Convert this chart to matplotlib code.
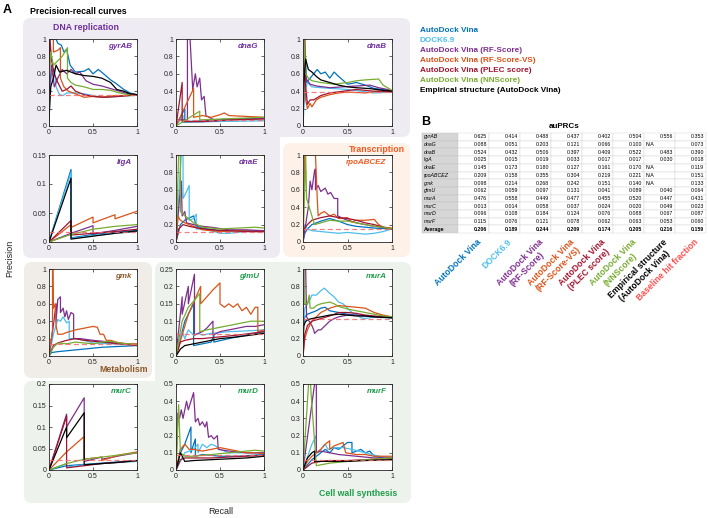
import matplotlib.pyplot as plt
from matplotlib.patches import FancyBboxPatch, Rectangle

plt.rcParams['font.family'] = ['Liberation Sans', 'DejaVu Sans']

# methods, legend names and colours
methods = ['vina', 'dock', 'rf', 'rfvs', 'plec', 'nn', 'emp']
method_names = ['AutoDock Vina', 'DOCK6.9', 'AutoDock Vina (RF-Score)',
                'AutoDock Vina (RF-Score-VS)', 'AutoDock Vina (PLEC score)',
                'AutoDock Vina (NNScore)', 'Empirical structure (AutoDock Vina)']
method_colors = ['#0072BD', '#4DBEEE', '#7E2F8E', '#D95319', '#A2142F', '#77AC30', '#000000']
baseline_color = '#F06A6A'

# ---- precision-recall curves, (recall, precision) points ----
gyrAB_pr = {
    'vina': [(0, 0.0), (0.01, 1.0), (0.08, 1.0), (0.1, 0.95), (0.14, 0.93), (0.17, 0.85), (0.2, 0.88),
             (0.24, 0.7), (0.3, 0.62), (0.4, 0.63), (0.45, 0.66), (0.5, 0.6), (0.56, 0.65), (0.62, 0.6),
             (0.7, 0.53), (0.76, 0.49), (0.85, 0.42), (0.92, 0.38), (1, 0.36)],
    'dock': [(0, 0.35), (0.03, 0.6), (0.06, 0.66), (0.08, 0.45), (0.12, 0.36), (0.16, 0.35), (0.2, 0.38),
             (0.3, 0.38), (0.4, 0.37), (0.5, 0.35), (0.6, 0.33), (0.8, 0.34), (1, 0.353)],
    'rf': [(0, 0.0), (0.0, 0.35), (0.03, 0.7), (0.06, 0.45), (0.1, 0.55), (0.15, 0.65), (0.2, 0.6),
           (0.25, 0.65), (0.3, 0.6), (0.35, 0.62), (0.42, 0.52), (0.5, 0.48), (0.6, 0.46), (0.7, 0.43),
           (0.8, 0.4), (0.9, 0.37), (1, 0.36)],
    'rfvs': [(0, 0.9), (0.01, 1.0), (0.05, 1.0), (0.05, 0.85), (0.1, 0.87), (0.13, 0.9), (0.13, 0.55),
             (0.17, 0.45), (0.22, 0.4), (0.3, 0.37), (0.4, 0.33), (0.5, 0.34), (0.6, 0.33), (0.75, 0.35),
             (0.9, 0.35), (1, 0.36)],
    'plec': [(0, 0.6), (0.01, 1.0), (0.03, 0.75), (0.06, 0.6), (0.1, 0.5), (0.15, 0.4), (0.2, 0.42),
             (0.25, 0.46), (0.3, 0.4), (0.4, 0.36), (0.5, 0.34), (0.65, 0.33), (0.8, 0.34), (1, 0.36)],
    'nn': [(0, 0.5), (0.02, 0.85), (0.05, 0.7), (0.1, 0.75), (0.15, 0.8), (0.21, 0.9), (0.21, 0.55),
           (0.25, 0.5), (0.3, 0.47), (0.4, 0.45), (0.5, 0.42), (0.6, 0.42), (0.7, 0.41), (0.8, 0.38),
           (0.9, 0.36), (1, 0.36)],
    'emp': [(0, 0.07), (0.02, 0.45), (0.05, 0.55), (0.08, 0.7), (0.12, 0.62), (0.2, 0.64), (0.3, 0.6),
            (0.4, 0.58), (0.5, 0.57), (0.6, 0.55), (0.7, 0.5), (0.77, 0.42), (0.85, 0.4), (0.92, 0.37),
            (1, 0.36)],
}
dnaG_pr = {
    'vina': [(0, 0), (0.1, 0.2), (0.1, 0.05), (0.3, 0.06), (0.6, 0.08), (1, 0.09)],
    'dock': [(0, 0), (0.08, 0.12), (0.08, 0.04), (0.4, 0.05), (1, 0.06)],
    'rf': [(0, 0), (0.02, 0.07), (0.13, 0.07), (0.13, 1.0), (0.16, 1.0), (0.19, 0.42), (0.22, 0.6),
           (0.24, 0.45), (0.27, 0.55), (0.29, 0.3), (0.32, 0.34), (0.34, 0.12), (0.45, 0.06),
           (0.6, 0.07), (0.8, 0.08), (1, 0.09)],
    'rfvs': [(0, 0), (0.2, 0.43), (0.2, 0.1), (0.3, 0.12), (0.4, 0.1), (0.5, 0.13), (0.55, 0.15),
             (0.6, 0.12), (0.8, 0.11), (1, 0.1)],
    'plec': [(0, 0), (0.07, 0.5), (0.07, 0.05), (0.3, 0.05), (0.6, 0.07), (1, 0.08)],
    'nn': [(0, 0), (0.27, 0.17), (0.27, 0.07), (0.5, 0.08), (1, 0.1)],
}
dnaB_pr = {
    'vina': [(0, 0), (0.02, 1.0), (0.04, 0.5), (0.08, 0.55), (0.12, 0.6), (0.16, 0.65), (0.2, 0.6),
             (0.25, 0.62), (0.3, 0.55), (0.35, 0.62), (0.4, 0.57), (0.5, 0.48), (0.6, 0.5), (0.7, 0.47),
             (0.8, 0.43), (0.9, 0.42), (1, 0.4)],
    'dock': [(0, 0), (0.02, 0.4), (0.05, 0.5), (0.1, 0.45), (0.2, 0.44), (0.35, 0.43), (0.5, 0.42),
             (0.65, 0.4), (0.8, 0.38), (1, 0.39)],
    'rf': [(0, 0), (0.01, 1.0), (0.03, 0.55), (0.08, 0.48), (0.15, 0.46), (0.3, 0.44), (0.45, 0.45),
           (0.6, 0.46), (0.75, 0.47), (0.85, 0.44), (0.95, 0.42), (1, 0.4)],
    'rfvs': [(0, 0), (0.01, 1.0), (0.02, 1.0), (0.03, 0.3), (0.05, 0.2), (0.08, 0.26), (0.1, 0.22),
             (0.15, 0.3), (0.2, 0.33), (0.3, 0.36), (0.4, 0.38), (0.5, 0.39), (0.7, 0.38), (0.85, 0.4),
             (1, 0.39)],
    'plec': [(0, 0), (0.01, 1.0), (0.03, 0.45), (0.05, 0.25), (0.08, 0.3), (0.12, 0.3), (0.2, 0.35),
             (0.3, 0.38), (0.45, 0.4), (0.6, 0.42), (0.8, 0.4), (1, 0.4)],
    'nn': [(0, 0), (0.01, 1.0), (0.03, 0.6), (0.06, 0.55), (0.1, 0.52), (0.2, 0.5), (0.35, 0.48),
           (0.5, 0.5), (0.6, 0.52), (0.7, 0.53), (0.85, 0.54), (0.9, 0.47), (1, 0.41)],
    'emp': [(0, 0), (0.01, 0.5), (0.03, 0.77), (0.06, 0.65), (0.1, 0.62), (0.15, 0.57), (0.2, 0.53),
            (0.3, 0.5), (0.4, 0.47), (0.5, 0.45), (0.6, 0.44), (0.75, 0.43), (0.9, 0.41), (1, 0.4)],
}
ligA_pr = {
    'vina': [(0, 0), (0.25, 0.125), (0.25, 0.007), (0.5, 0.013), (0.75, 0.017), (1, 0.02)],
    'dock': [(0, 0), (0.25, 0.12), (0.25, 0.006), (0.5, 0.011), (0.75, 0.015), (1, 0.018)],
    'rf': [(0, 0), (0.25, 0.015), (0.5, 0.028), (0.5, 0.014), (0.75, 0.02), (1, 0.027)],
    'rfvs': [(0, 0), (0.25, 0.03), (0.25, 0.025), (0.5, 0.043), (0.5, 0.033), (0.75, 0.047),
             (0.75, 0.04), (1, 0.053)],
    'plec': [(0, 0), (0.25, 0.037), (0.25, 0.012), (0.5, 0.015), (0.75, 0.018), (1, 0.022)],
    'nn': [(0, 0), (0.25, 0.013), (0.5, 0.022), (0.75, 0.027), (1, 0.03)],
    'emp': [(0, 0), (0.25, 0.11), (0.25, 0.005), (0.5, 0.01), (0.75, 0.015), (1, 0.019)],
}
dnaE_pr = {
    'vina': [(0, 0), (0.05, 0.2), (0.1, 0.25), (0.2, 0.3), (0.23, 0.18), (0.3, 0.16), (0.5, 0.13),
             (0.7, 0.13), (1, 0.13)],
    'dock': [(0, 0), (0.06, 1.0), (0.08, 1.0), (0.08, 0.5), (0.12, 0.58), (0.15, 0.65), (0.15, 0.25),
             (0.2, 0.27), (0.23, 0.32), (0.23, 0.15), (0.3, 0.15), (0.4, 0.13), (0.5, 0.1), (0.6, 0.1),
             (0.8, 0.12), (1, 0.12)],
    'rf': [(0, 0), (0.04, 0.5), (0.06, 0.7), (0.07, 0.3), (0.1, 0.35), (0.12, 0.22), (0.2, 0.2),
           (0.3, 0.18), (0.4, 0.17), (0.6, 0.14), (0.8, 0.14), (1, 0.13)],
    'rfvs': [(0, 0), (0.02, 0.3), (0.05, 0.25), (0.1, 0.22), (0.15, 0.2), (0.2, 0.18), (0.3, 0.14),
             (0.5, 0.12), (0.7, 0.13), (0.9, 0.12), (1, 0.12)],
    'plec': [(0, 0), (0.03, 0.15), (0.08, 0.2), (0.15, 0.18), (0.25, 0.16), (0.4, 0.14), (0.6, 0.13),
             (0.8, 0.12), (1, 0.12)],
    'nn': [(0, 0), (0.03, 1.0), (0.05, 1.0), (0.05, 0.35), (0.1, 0.3), (0.13, 0.28), (0.2, 0.22),
           (0.3, 0.17), (0.4, 0.16), (0.5, 0.15), (0.7, 0.16), (0.9, 0.17), (1, 0.16)],
}
rpo_pr = {
    'vina': [(0, 0), (0.02, 0.1), (0.05, 0.15), (0.1, 0.2), (0.2, 0.24), (0.3, 0.27), (0.4, 0.24),
             (0.5, 0.2), (0.6, 0.18), (0.7, 0.17), (0.8, 0.16), (1, 0.15)],
    'dock': [(0, 0), (0.02, 0.2), (0.05, 0.15), (0.1, 0.13), (0.2, 0.12), (0.3, 0.11), (0.4, 0.1),
             (0.5, 0.11), (0.6, 0.1), (0.7, 0.09), (0.8, 0.1), (0.9, 0.12), (1, 0.15)],
    'rf': [(0, 0), (0.03, 0.2), (0.06, 0.4), (0.08, 0.7), (0.1, 0.6), (0.13, 0.82), (0.14, 0.84),
           (0.14, 0.6), (0.17, 0.65), (0.2, 0.58), (0.25, 0.62), (0.28, 0.55), (0.31, 0.57),
           (0.35, 0.5), (0.39, 0.5), (0.39, 0.3), (0.45, 0.27), (0.5, 0.25), (0.6, 0.22), (0.7, 0.2),
           (0.8, 0.18), (0.9, 0.17), (1, 0.15)],
    'rfvs': [(0, 0), (0.02, 1.0), (0.14, 1.0), (0.16, 0.5), (0.17, 0.3), (0.2, 0.33), (0.24, 0.35),
             (0.3, 0.3), (0.35, 0.32), (0.4, 0.27), (0.5, 0.28), (0.55, 0.23), (0.6, 0.25), (0.7, 0.25),
             (0.8, 0.26), (0.85, 0.2), (0.9, 0.17), (1, 0.16)],
    'plec': [(0, 0), (0.01, 0.15), (0.05, 0.2), (0.1, 0.25), (0.2, 0.28), (0.3, 0.3), (0.4, 0.28),
             (0.5, 0.27), (0.6, 0.25), (0.7, 0.22), (0.8, 0.2), (0.9, 0.17), (1, 0.15)],
    'nn': [(0, 0), (0.03, 1.0), (0.04, 0.5), (0.07, 0.4), (0.1, 0.3), (0.13, 0.2), (0.2, 0.22),
           (0.3, 0.25), (0.4, 0.24), (0.5, 0.24), (0.6, 0.22), (0.7, 0.2), (0.8, 0.18), (0.9, 0.17),
           (1, 0.15)],
}
gmk_pr = {
    'vina': [(0, 0), (0.03, 0.04), (0.1, 0.05), (0.2, 0.06), (0.3, 0.07), (0.4, 0.08), (0.5, 0.09),
             (0.6, 0.1), (0.8, 0.11), (1, 0.12)],
    'dock': [(0, 0), (0.05, 0.25), (0.08, 0.35), (0.1, 0.42), (0.13, 0.4), (0.16, 0.45), (0.2, 0.38),
             (0.23, 0.4), (0.23, 0.2), (0.3, 0.2), (0.4, 0.18), (0.5, 0.15), (0.7, 0.14), (1, 0.13)],
    'rf': [(0, 0), (0.05, 0.35), (0.08, 0.6), (0.08, 0.4), (0.1, 0.65), (0.13, 0.68), (0.13, 0.5),
           (0.16, 0.55), (0.18, 0.45), (0.2, 0.52), (0.22, 0.42), (0.25, 0.5), (0.28, 0.48),
           (0.28, 0.2), (0.35, 0.2), (0.5, 0.18), (0.6, 0.17), (0.75, 0.15), (0.9, 0.14), (1, 0.13)],
    'rfvs': [(0, 0), (0.04, 0.3), (0.04, 1.0), (0.045, 1.0), (0.05, 0.55), (0.07, 0.6), (0.08, 0.35),
             (0.1, 0.25), (0.15, 0.25), (0.2, 0.27), (0.3, 0.3), (0.4, 0.32), (0.5, 0.34), (0.55, 0.33),
             (0.58, 0.25), (0.62, 0.25), (0.65, 0.18), (0.7, 0.18), (0.8, 0.15), (0.9, 0.14),
             (1, 0.14)],
    'plec': [(0, 0), (0.05, 0.12), (0.1, 0.15), (0.2, 0.18), (0.3, 0.2), (0.4, 0.18), (0.5, 0.17),
             (0.6, 0.16), (0.7, 0.15), (0.8, 0.14), (0.9, 0.13), (1, 0.12)],
    'nn': [(0, 0), (0.05, 0.1), (0.1, 0.15), (0.2, 0.14), (0.3, 0.16), (0.4, 0.15), (0.5, 0.14),
           (0.6, 0.16), (0.7, 0.17), (0.8, 0.15), (0.9, 0.14), (1, 0.13)],
}
glmU_pr = {
    'vina': [(0, 0), (0.1, 0.1), (0.2, 0.15), (0.2, 0.03), (0.3, 0.035), (0.4, 0.04), (0.43, 0.06),
             (0.43, 0.04), (0.6, 0.05), (0.8, 0.06), (1, 0.07)],
    'dock': [(0, 0), (0.07, 0.07), (0.1, 0.05), (0.14, 0.075), (0.2, 0.06), (0.25, 0.065),
             (0.3, 0.06), (0.4, 0.065), (0.6, 0.07), (0.8, 0.072), (1, 0.075)],
    'rf': [(0, 0), (0.07, 0.17), (0.07, 0.12), (0.14, 0.2), (0.14, 0.15), (0.21, 0.235),
           (0.21, 0.06), (0.3, 0.07), (0.35, 0.08), (0.42, 0.1), (0.42, 0.06), (0.5, 0.07),
           (0.6, 0.075), (0.7, 0.08), (0.8, 0.085), (0.9, 0.085), (1, 0.09)],
    'rfvs': [(0, 0), (0.14, 0.12), (0.21, 0.16), (0.28, 0.2), (0.28, 0.15), (0.35, 0.17), (0.42, 0.19),
             (0.5, 0.21), (0.5, 0.15), (0.55, 0.14), (0.6, 0.15), (0.65, 0.14), (0.7, 0.15),
             (0.75, 0.13), (0.8, 0.14), (0.85, 0.12), (0.9, 0.14), (0.93, 0.14), (0.93, 0.07),
             (1, 0.075)],
    'plec': [(0, 0), (0.05, 0.04), (0.1, 0.045), (0.2, 0.05), (0.3, 0.05), (0.5, 0.055), (0.7, 0.06),
             (1, 0.07)],
    'nn': [(0, 0), (0.07, 0.1), (0.14, 0.14), (0.21, 0.16), (0.27, 0.18), (0.27, 0.07), (0.35, 0.075),
           (0.45, 0.08), (0.55, 0.085), (0.65, 0.09), (0.75, 0.095), (0.85, 0.1), (1, 0.1)],
    'emp': [(0, 0), (0.05, 0.02), (0.1, 0.03), (0.2, 0.035), (0.3, 0.04), (0.5, 0.05), (0.7, 0.055),
            (1, 0.065)],
}
murA_pr = {
    'vina': [(0, 0.3), (0.02, 0.45), (0.05, 0.48), (0.1, 0.5), (0.15, 0.52), (0.2, 0.55), (0.25, 0.56),
             (0.3, 0.52), (0.4, 0.5), (0.5, 0.48), (0.6, 0.47), (0.7, 0.46), (0.8, 0.45), (1, 0.44)],
    'dock': [(0, 0.3), (0.02, 0.55), (0.05, 0.6), (0.08, 0.65), (0.1, 0.7), (0.15, 0.7), (0.2, 0.75),
             (0.24, 0.78), (0.3, 0.72), (0.35, 0.68), (0.4, 0.62), (0.45, 0.6), (0.5, 0.55),
             (0.55, 0.5), (0.6, 0.47), (0.65, 0.44), (0.7, 0.43), (0.8, 0.45), (0.9, 0.44), (1, 0.44)],
    'rf': [(0, 0.2), (0.01, 1.0), (0.03, 1.0), (0.04, 0.45), (0.08, 0.38), (0.1, 0.35), (0.12, 0.3),
           (0.13, 0.26), (0.17, 0.3), (0.2, 0.3), (0.25, 0.35), (0.3, 0.4), (0.35, 0.43), (0.4, 0.45),
           (0.5, 0.47), (0.6, 0.47), (0.7, 0.46), (0.8, 0.45), (1, 0.44)],
    'rfvs': [(0, 0), (0.02, 0.2), (0.05, 0.3), (0.1, 0.4), (0.15, 0.45), (0.2, 0.5), (0.3, 0.55),
             (0.4, 0.58), (0.5, 0.57), (0.6, 0.56), (0.7, 0.55), (0.8, 0.5), (0.9, 0.47), (1, 0.45)],
    'plec': [(0, 0), (0.02, 0.25), (0.05, 0.35), (0.1, 0.4), (0.2, 0.43), (0.3, 0.46), (0.4, 0.5),
             (0.5, 0.5), (0.6, 0.49), (0.7, 0.47), (0.8, 0.46), (1, 0.44)],
    'nn': [(0, 0.3), (0.0, 1.0), (0.01, 1.0), (0.02, 0.6), (0.05, 0.6), (0.07, 0.7), (0.08, 0.55),
           (0.12, 0.55), (0.15, 0.58), (0.2, 0.6), (0.3, 0.62), (0.35, 0.6), (0.4, 0.57), (0.5, 0.54),
           (0.6, 0.52), (0.7, 0.5), (0.8, 0.48), (0.9, 0.46), (1, 0.45)],
    'emp': [(0, 0.15), (0.01, 0.35), (0.03, 0.4), (0.06, 0.42), (0.1, 0.43), (0.2, 0.45), (0.3, 0.47),
            (0.4, 0.48), (0.5, 0.47), (0.6, 0.46), (0.7, 0.46), (0.8, 0.45), (1, 0.44)],
}
murC_pr = {
    'vina': [(0, 0), (0.2, 0.01), (0.4, 0.013), (0.6, 0.016), (0.8, 0.019), (1, 0.021)],
    'dock': [(0, 0), (0.2, 0.015), (0.2, 0.007), (0.4, 0.012), (0.6, 0.015), (1, 0.02)],
    'rf': [(0, 0), (0.2, 0.13), (0.2, 0.1), (0.4, 0.168), (0.4, 0.02), (0.6, 0.03), (0.6, 0.025),
           (0.8, 0.033), (1, 0.04)],
    'rfvs': [(0, 0), (0.2, 0.042), (0.4, 0.078), (0.4, 0.025), (0.6, 0.03), (0.6, 0.022),
             (0.8, 0.035), (1, 0.042)],
    'plec': [(0, 0), (0.2, 0.125), (0.2, 0.005), (0.4, 0.01), (0.6, 0.015), (0.8, 0.018), (1, 0.022)],
    'nn': [(0, 0), (0.2, 0.015), (0.4, 0.025), (0.6, 0.03), (0.8, 0.035), (1, 0.04)],
    'emp': [(0, 0), (0.2, 0.1), (0.2, 0.075), (0.4, 0.133), (0.4, 0.012), (0.6, 0.015), (0.8, 0.018),
            (1, 0.022)],
}
murD_pr = {
    'vina': [(0, 0), (0.05, 0.1), (0.1, 0.15), (0.17, 0.25), (0.17, 0.1), (0.2, 0.15), (0.22, 0.18),
             (0.22, 0.08), (0.3, 0.09), (0.5, 0.08), (0.7, 0.08), (1, 0.09)],
    'dock': [(0, 0), (0.1, 0.1), (0.2, 0.12), (0.25, 0.15), (0.25, 0.1), (0.3, 0.15), (0.35, 0.13),
             (0.4, 0.15), (0.45, 0.14), (0.5, 0.12), (0.6, 0.1), (0.8, 0.1), (1, 0.1)],
    'rf': [(0, 0), (0.02, 0.33), (0.04, 0.3), (0.06, 0.35), (0.08, 0.3), (0.12, 0.4), (0.14, 0.35),
           (0.2, 0.45), (0.22, 0.28), (0.25, 0.3), (0.27, 0.26), (0.3, 0.28), (0.33, 0.25),
           (0.35, 0.28), (0.37, 0.19), (0.4, 0.2), (0.43, 0.18), (0.47, 0.2), (0.48, 0.12),
           (0.6, 0.11), (0.8, 0.1), (1, 0.1)],
    'rfvs': [(0, 0), (0.05, 0.12), (0.1, 0.15), (0.15, 0.12), (0.2, 0.12), (0.3, 0.11), (0.4, 0.12),
             (0.5, 0.13), (0.6, 0.12), (0.7, 0.11), (0.8, 0.1), (0.9, 0.1), (1, 0.095)],
    'plec': [(0, 0), (0.05, 0.06), (0.1, 0.07), (0.2, 0.07), (0.4, 0.07), (0.6, 0.075), (0.8, 0.08),
             (1, 0.085)],
    'nn': [(0, 0), (0.03, 0.38), (0.05, 0.1), (0.1, 0.08), (0.2, 0.08), (0.4, 0.09), (0.6, 0.1),
           (0.8, 0.11), (0.9, 0.115), (1, 0.11)],
    'emp': [(0, 0), (0.05, 0.1), (0.1, 0.05), (0.2, 0.055), (0.4, 0.06), (0.6, 0.065), (0.8, 0.07),
            (1, 0.08)],
}
murF_pr = {
    'vina': [(0, 0), (0.1, 0.06), (0.2, 0.1), (0.25, 0.12), (0.3, 0.1), (0.35, 0.13), (0.4, 0.12),
             (0.5, 0.16), (0.55, 0.16), (0.55, 0.1), (0.6, 0.11), (0.65, 0.12), (0.7, 0.1), (0.75, 0.11),
             (0.8, 0.08), (0.9, 0.07), (1, 0.06)],
    'dock': [(0, 0), (0.1, 0.15), (0.15, 0.2), (0.15, 0.1), (0.2, 0.12), (0.25, 0.15), (0.28, 0.12),
             (0.35, 0.13), (0.45, 0.13), (0.55, 0.12), (0.7, 0.1), (0.85, 0.08), (1, 0.07)],
    'rf': [(0, 0), (0.13, 0.5), (0.15, 0.55), (0.15, 0.1), (0.2, 0.11), (0.3, 0.1), (0.4, 0.09),
           (0.6, 0.08), (0.8, 0.07), (1, 0.07)],
    'rfvs': [(0, 0), (0.05, 0.05), (0.1, 0.08), (0.2, 0.12), (0.25, 0.15), (0.3, 0.17), (0.3, 0.12),
             (0.35, 0.14), (0.4, 0.15), (0.45, 0.16), (0.48, 0.1), (0.6, 0.09), (0.7, 0.09), (0.8, 0.08),
             (1, 0.08)],
    'plec': [(0, 0), (0.1, 0.04), (0.2, 0.05), (0.3, 0.055), (0.5, 0.055), (0.7, 0.06), (1, 0.065)],
    'nn': [(0, 0), (0.075, 0.6), (0.09, 0.45), (0.15, 0.025), (0.3, 0.04), (0.5, 0.05), (0.7, 0.06),
           (1, 0.07)],
    'emp': [(0, 0), (0.05, 0.07), (0.1, 0.1), (0.13, 0.11), (0.13, 0.05), (0.2, 0.05), (0.35, 0.05),
            (0.5, 0.05), (0.7, 0.055), (1, 0.06)],
}

genes = ['gyrAB', 'dnaG', 'dnaB', 'ligA', 'dnaE', 'rpoABCEZ',
         'gmk', 'glmU', 'murA', 'murC', 'murD', 'murF']
curves = [gyrAB_pr, dnaG_pr, dnaB_pr, ligA_pr, dnaE_pr, rpo_pr,
          gmk_pr, glmU_pr, murA_pr, murC_pr, murD_pr, murF_pr]
baselines = [0.353, 0.073, 0.390, 0.018, 0.119, 0.151, 0.133, 0.064, 0.431, 0.023, 0.087, 0.060]
ytops = [1, 1, 1, 0.15, 1, 1, 1, 0.25, 1, 0.2, 0.5, 0.5]
ysteps = [0.2, 0.2, 0.2, 0.05, 0.2, 0.2, 0.2, 0.05, 0.2, 0.05, 0.1, 0.1]
groups = ['dna', 'dna', 'dna', 'dna', 'dna', 'tx', 'met', 'cw', 'cw', 'cw', 'cw', 'cw']

# ---- auPRC table ----
table_rows = genes + ['Average']
table_cols = ['AutoDock Vina', 'DOCK6.9', 'AutoDock Vina\n(RF-Score)', 'AutoDock Vina\n(RF-Score-VS)',
              'AutoDock Vina\n(PLEC score)', 'AutoDock Vina\n(NNScore)',
              'Empirical structure\n(AutoDock Vina)', 'Baseline hit fraction']
table_col_colors = method_colors + ['#FF4D4D']
auprc = [
    ['0.625', '0.414', '0.488', '0.437', '0.402', '0.504', '0.556', '0.353'],
    ['0.088', '0.051', '0.203', '0.121', '0.066', '0.100', 'N/A', '0.073'],
    ['0.524', '0.432', '0.506', '0.397', '0.409', '0.522', '0.483', '0.390'],
    ['0.025', '0.015', '0.019', '0.033', '0.017', '0.017', '0.030', '0.018'],
    ['0.145', '0.173', '0.180', '0.127', '0.161', '0.170', 'N/A', '0.119'],
    ['0.209', '0.158', '0.355', '0.304', '0.219', '0.221', 'N/A', '0.151'],
    ['0.098', '0.214', '0.268', '0.242', '0.151', '0.140', 'N/A', '0.133'],
    ['0.062', '0.059', '0.097', '0.131', '0.041', '0.089', '0.040', '0.064'],
    ['0.476', '0.558', '0.449', '0.477', '0.455', '0.520', '0.447', '0.431'],
    ['0.013', '0.014', '0.058', '0.037', '0.024', '0.020', '0.049', '0.023'],
    ['0.096', '0.108', '0.184', '0.124', '0.076', '0.088', '0.067', '0.087'],
    ['0.115', '0.076', '0.121', '0.078', '0.062', '0.063', '0.053', '0.060'],
    ['0.206', '0.189', '0.244', '0.209', '0.174', '0.205', '0.216', '0.159'],
]

group_style = {
    'dna': ('#7030A0', '#EEEBF3'),
    'tx': ('#F05A22', '#FDF1E8'),
    'met': ('#8B5A2B', '#F0ECE7'),
    'cw': ('#1E9E4A', '#EDF2EC'),
}

W, H = 708, 518
fig = plt.figure(figsize=(7.08, 5.18), dpi=100)

bg = fig.add_axes([0, 0, 1, 1], zorder=-1)
bg.set_xlim(0, W)
bg.set_ylim(H, 0)
bg.axis('off')


def rbox(x0, y0, x1, y1, color):
    bg.add_patch(FancyBboxPatch((x0, y0), x1 - x0, y1 - y0,
                                boxstyle='round,pad=0,rounding_size=8',
                                fc=color, ec='none'))


# background group boxes
rbox(23, 18, 410, 137, group_style['dna'][1])
rbox(23, 100, 280, 258, group_style['dna'][1])
rbox(283, 143, 410, 257, group_style['tx'][1])
rbox(24, 262, 152, 378, group_style['met'][1])
rbox(155, 262, 411, 420, group_style['cw'][1])
rbox(24, 381, 411, 503, group_style['cw'][1])

bg.text(3, 10, 'A', fontsize=9, weight='bold', va='center')
bg.text(30, 12, 'Precision-recall curves', fontsize=6.3, weight='bold', va='center')
bg.text(53, 27, 'DNA replication', fontsize=6.3, weight='bold', va='center', color=group_style['dna'][0])
bg.text(405, 149, 'Transcription', fontsize=6.3, weight='bold', va='center', ha='right',
        color=group_style['tx'][0])
bg.text(148, 370, 'Metabolism', fontsize=6.3, weight='bold', va='center', ha='right',
        color=group_style['met'][0])
bg.text(397, 494, 'Cell wall synthesis', fontsize=6.3, weight='bold', va='center', ha='right',
        color=group_style['cw'][0])
bg.text(10, 258, 'Precision', fontsize=6.5, rotation=90, va='center', ha='center', color='#262626')
bg.text(221, 512, 'Recall', fontsize=6.5, va='center', ha='center', color='#262626')

# legend
for i, (name, col) in enumerate(zip(method_names, method_colors)):
    bg.text(420, 31 + 9.9 * i, name, fontsize=5.9, weight='bold', color=col, va='center')

col_x = [(49, 137), (176, 264), (303, 392)]
row_y = [(39, 126), (155, 242), (269, 356), (384, 470)]

for k, gene in enumerate(genes):
    r, c = divmod(k, 3)
    x0, x1 = col_x[c]
    y0, y1 = row_y[r]
    ax = fig.add_axes([x0 / W, 1 - y1 / H, (x1 - x0) / W, (y1 - y0) / H])
    ax.set_facecolor('white')
    data = curves[k]
    for m, col in zip(methods, method_colors):
        if m not in data:
            continue
        pts = data[m]
        ax.plot([p[0] for p in pts], [p[1] for p in pts], color=col, lw=0.9, clip_on=True)
    ax.axhline(baselines[k], color=baseline_color, lw=0.9, ls=(0, (4, 2.5)), alpha=0.85)
    ax.set_xlim(0, 1)
    ax.set_ylim(0, ytops[k])
    ax.set_xticks([0, 0.5, 1])
    ax.set_xticklabels(['0', '0.5', '1'])
    n = int(round(ytops[k] / ysteps[k]))
    yt = [round(i * ysteps[k], 3) for i in range(n + 1)]
    ax.set_yticks(yt)
    ax.set_yticklabels(['%g' % t for t in yt])
    ax.tick_params(labelsize=5, length=2, width=0.5, direction='in', top=True, right=True,
                   pad=2, colors='#262626')
    for sp in ax.spines.values():
        sp.set_linewidth(0.6)
        sp.set_color('#262626')
    ax.text(0.94, 0.91, gene, transform=ax.transAxes, ha='right', va='center', fontsize=5.8,
            weight='bold', style='italic', color=group_style[groups[k]][0])

# ---- panel B: table ----
bg.text(421, 122, 'B', fontsize=9, weight='bold', va='center')
bg.text(564, 126, 'auPRCs', fontsize=5.8, weight='bold', va='center', ha='center')

tx0, lab_w, cw = 422, 36, 31
ty0, rh = 133, 7.7
for i, rname in enumerate(table_rows):
    y = ty0 + i * rh
    bold = rname == 'Average'
    bg.add_patch(Rectangle((tx0, y), lab_w, rh, fc='#D6D6D6', ec='#BFBFBF', lw=0.3))
    bg.text(tx0 + 1.5, y + rh / 2, rname, fontsize=3.8, va='center', ha='left',
            style='normal' if bold else 'italic', weight='bold' if bold else 'normal')
    for j, val in enumerate(auprc[i]):
        x = tx0 + lab_w + j * cw
        bg.add_patch(Rectangle((x, y), cw, rh, fc='white', ec='#D0D0D0', lw=0.3))
        if val == 'N/A':
            bg.text(x + 1.5, y + rh / 2, val, fontsize=3.8, va='center', ha='left')
        else:
            bg.text(x + cw - 2, y + rh / 2, val, fontsize=3.8, va='center', ha='right',
                    weight='bold' if bold else 'normal')

tbottom = ty0 + len(table_rows) * rh
for j, (lab, col) in enumerate(zip(table_cols, table_col_colors)):
    xc = tx0 + lab_w + (j + 0.5) * cw + 3
    bg.text(xc, tbottom + 4, lab, fontsize=6.2, weight='bold', color=col, rotation=45,
            rotation_mode='anchor', ha='right', va='top', multialignment='center')

fig.savefig('out.png', dpi=100)
